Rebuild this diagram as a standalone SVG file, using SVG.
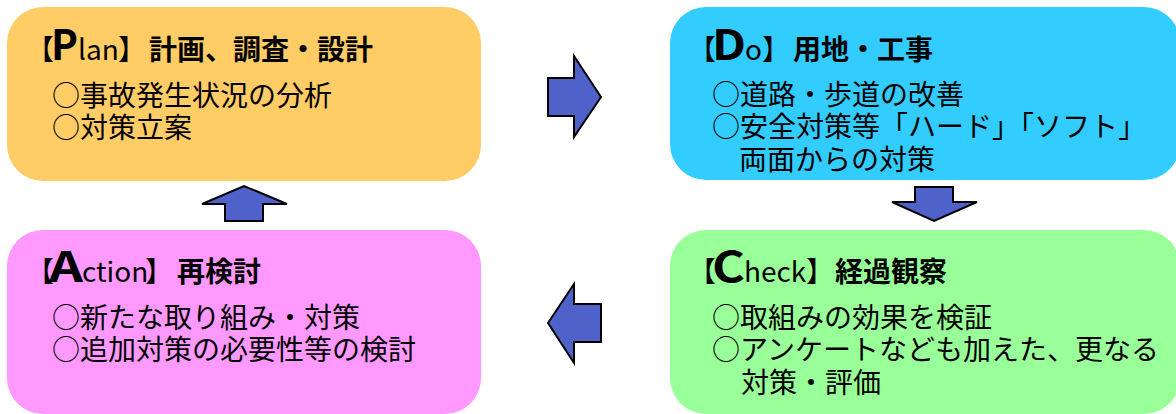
<svg xmlns="http://www.w3.org/2000/svg" width="1176" height="414" viewBox="0 0 1176 414">
<style>
text{font-family:"Noto Sans CJK JP","Noto Sans",sans-serif;font-size:28px;fill:#000}
.b{font-weight:bold}
.big{font-size:42px;font-weight:bold}
.arrow{fill:#4F62C9;stroke:#000;stroke-width:2;stroke-linejoin:miter}
</style>
<rect width="1176" height="414" fill="#fff"/>
<g id="plan">
<rect x="7" y="7" width="474" height="174" rx="36" fill="#FFCC66"/>
<text y="60"><tspan x="26">【</tspan><tspan x="51" class="big" textLength="27" lengthAdjust="spacingAndGlyphs">P</tspan><tspan x="78">lan</tspan><tspan x="118">】</tspan><tspan x="149" class="b">計画、調査・設計</tspan></text>
<text x="52" y="106">○事故発生状況の分析</text>
<text x="52" y="138">○対策立案</text>
</g>
<g id="do">
<rect x="670" y="7" width="510" height="173" rx="36" fill="#33CCFF"/>
<text y="60"><tspan x="688">【</tspan><tspan x="712" class="big" textLength="34" lengthAdjust="spacingAndGlyphs">D</tspan><tspan x="745">o</tspan><tspan x="762">】</tspan><tspan x="793" class="b">用地・工事</tspan></text>
<text x="712" y="105">○道路・歩道の改善</text>
<text x="712" y="137">○安全対策等「ハード」「ソフト」</text>
<text x="739" y="170">両面からの対策</text>
</g>
<g id="action">
<rect x="7" y="230" width="474" height="184" rx="36" fill="#FF99FF"/>
<text y="282"><tspan x="49" class="big" textLength="34" lengthAdjust="spacingAndGlyphs">A</tspan><tspan x="26">【</tspan><tspan x="82">ction</tspan><tspan x="145">】</tspan><tspan x="177" class="b">再検討</tspan></text>
<text x="52" y="328">○新たな取り組み・対策</text>
<text x="52" y="360">○追加対策の必要性等の検討</text>
</g>
<g id="check">
<rect x="670" y="230" width="510" height="184" rx="36" fill="#99FF99"/>
<text y="282"><tspan x="688">【</tspan><tspan x="712" class="big" textLength="33" lengthAdjust="spacingAndGlyphs">C</tspan><tspan x="744">heck</tspan><tspan x="806">】</tspan><tspan x="835" class="b">経過観察</tspan></text>
<text x="712" y="328">○取組みの効果を検証</text>
<text x="712" y="360">○アンケートなども加えた、更なる</text>
<text x="741" y="393">対策・評価</text>
</g>
<g id="connectors">
<polygon class="arrow" points="548,78 574,78 574,56 601,97 574,137 574,116 548,116"/>
<polygon class="arrow" points="915,187 953,187 953,202 977,202 934,221 892,202 915,202"/>
<polygon class="arrow" points="601,304 574,304 574,284 548,323 574,363 574,342 601,342"/>
<polygon class="arrow" points="263,221 225,221 225,204 202,204 244,186 287,204 263,204"/>
</g>
</svg>
